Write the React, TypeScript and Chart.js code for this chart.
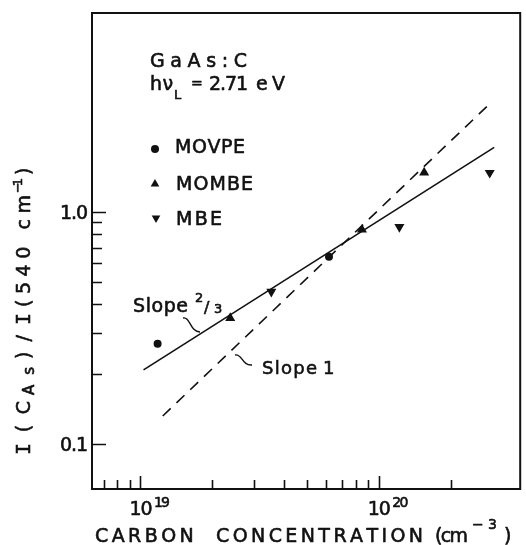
import { useEffect, useRef } from 'react';
import { Chart, registerables } from 'chart.js';

Chart.register(...registerables);

// ---- data ----
const movpeX = [1.18e19, 6.18e19];
const movpeY = [0.27, 0.64];
const mombeX = [2.38e19, 8.5e19, 1.55e20];
const mombeY = [0.348, 0.836, 1.474];
const mbeX = [3.54e19, 1.22e20, 2.92e20];
const mbeY = [0.452, 0.86, 1.469];
const slope23X = [1.03e19, 3.05e20];
const slope23Y = [0.2085, 1.89];
const slope1X = [1.24e19, 3.0e20];
const slope1Y = [0.132, 2.99];

const xRange = [6.26e18, 3.92e20];
const yRange = [0.064, 7.16];
const xMajorTicks = [1e19, 1e20];
const xMajorExp = ['19', '20'];
const xMinorTicks = [7e18, 8e18, 9e18, 2e19, 3e19, 4e19, 5e19, 6e19, 7e19, 8e19, 9e19, 2e20];
const yMajorTicks = [0.1, 1.0];
const yMajorLabels = ['0.1', '1.0'];
const yMinorTicks = [0.2, 0.3, 0.4, 0.5, 0.6, 0.7, 0.8, 0.9];

const legendLabels = ['MOVPE', 'MOMBE', 'MBE'];

const FONT = "'DejaVu Sans', sans-serif";
const MONO = "'DejaVu Sans Mono', monospace";
const INK = '#111';
const FS = 19;

const pts = (xs: number[], ys: number[]) => xs.map((x, i) => ({ x, y: ys[i] }));

type Run = { t: string; size: number; dy?: number; fam?: string };

function drawRuns(ctx: CanvasRenderingContext2D, runs: Run[], x0: number, x1: number, y: number) {
  const chars: { ch: string; size: number; dy: number; fam: string; w: number }[] = [];
  for (const r of runs) {
    for (const ch of Array.from(r.t)) {
      chars.push({ ch, size: r.size, dy: r.dy || 0, fam: r.fam || FONT, w: 0 });
    }
  }
  let total = 0;
  for (const c of chars) {
    ctx.font = `${c.size}px ${c.fam}`;
    c.w = ctx.measureText(c.ch).width;
    total += c.w;
  }
  const sp = chars.length > 1 ? (x1 - x0 - total) / (chars.length - 1) : 0;
  let x = x0;
  ctx.lineWidth = 0.6;
  ctx.lineJoin = 'round';
  for (const c of chars) {
    ctx.font = `${c.size}px ${c.fam}`;
    ctx.fillText(c.ch, x, y + c.dy);
    ctx.strokeText(c.ch, x, y + c.dy);
    x += c.w + sp;
  }
}

function drawTri(ctx: CanvasRenderingContext2D, x: number, y: number, r: number, down: boolean) {
  const s = down ? -1 : 1;
  ctx.beginPath();
  ctx.moveTo(x, y - s * r);
  ctx.lineTo(x + r * 0.866, y + s * r * 0.5);
  ctx.lineTo(x - r * 0.866, y + s * r * 0.5);
  ctx.closePath();
  ctx.fill();
}

const decorPlugin = {
  id: 'decor',
  beforeDraw(chart: any) {
    const ctx = chart.ctx as CanvasRenderingContext2D;
    ctx.save();
    ctx.fillStyle = '#fff';
    ctx.fillRect(0, 0, chart.width, chart.height);
    ctx.restore();
  },
  afterDraw(chart: any) {
    const ctx = chart.ctx as CanvasRenderingContext2D;
    const { left, right, top, bottom } = chart.chartArea;
    const xs = chart.scales.x;
    const ys = chart.scales.y;
    ctx.save();
    ctx.strokeStyle = INK;
    ctx.fillStyle = INK;
    ctx.textBaseline = 'alphabetic';
    ctx.textAlign = 'left';

    // frame
    ctx.lineWidth = 2;
    ctx.strokeRect(left, top, right - left, bottom - top);

    // ticks
    ctx.lineWidth = 1.6;
    ctx.beginPath();
    for (const v of yMajorTicks) {
      const p = Math.round(ys.getPixelForValue(v)) + 0.5;
      ctx.moveTo(left, p); ctx.lineTo(left + 14, p);
    }
    for (const v of yMinorTicks) {
      const p = Math.round(ys.getPixelForValue(v)) + 0.5;
      ctx.moveTo(left, p); ctx.lineTo(left + 10, p);
    }
    for (const v of xMajorTicks) {
      const p = Math.round(xs.getPixelForValue(v)) + 0.5;
      ctx.moveTo(p, bottom); ctx.lineTo(p, bottom - 13);
    }
    for (const v of xMinorTicks) {
      const p = Math.round(xs.getPixelForValue(v)) + 0.5;
      ctx.moveTo(p, bottom); ctx.lineTo(p, bottom - 9);
    }
    ctx.stroke();

    // y tick labels
    yMajorTicks.forEach((v, i) => {
      const p = ys.getPixelForValue(v);
      drawRuns(ctx, [{ t: yMajorLabels[i], size: FS }], left - 32, left - 4, p + 7);
    });
    // x tick labels
    xMajorTicks.forEach((v, i) => {
      const p = xs.getPixelForValue(v);
      drawRuns(ctx, [{ t: '10', size: FS }], p - 11, p + 12, 515);
      drawRuns(ctx, [{ t: xMajorExp[i], size: 14 }], p + 13.5, p + 29.5, 507);
    });

    // x title
    drawRuns(ctx, [{ t: 'CARBON  CONCENTRATION', size: FS }], 95, 423, 542);
    drawRuns(ctx, [{ t: '(cm', size: FS }], 435, 468, 542);
    drawRuns(ctx, [{ t: '−3', size: 14 }], 472, 497, 529);
    drawRuns(ctx, [{ t: ')', size: FS }], 504, 511, 542);

    // y title (rotated)
    ctx.save();
    ctx.translate(30, 463);
    ctx.rotate(-Math.PI / 2);
    drawRuns(ctx, [{ t: 'I', size: 20, fam: MONO }, { t: '(C', size: FS }], 8, 62, 0);
    drawRuns(ctx, [{ t: 'As', size: 15, dy: 4 }], 68, 96, 0);
    drawRuns(ctx, [{ t: ')/', size: FS }, { t: 'I', size: 20, fam: MONO }], 104, 150, 0);
    drawRuns(ctx, [{ t: '(540 cm', size: FS }], 156, 268, 0);
    drawRuns(ctx, [{ t: '−1', size: 13, dy: -8 }], 270, 285, 0);
    drawRuns(ctx, [{ t: ')', size: FS }], 288, 300, 0);
    ctx.restore();

    // annotation text
    drawRuns(ctx, [{ t: 'GaAs:C', size: FS }], 150, 247, 67);
    drawRuns(ctx, [{ t: 'hν', size: FS }], 150, 173, 90);
    drawRuns(ctx, [{ t: 'L', size: 13 }], 174, 181, 99);
    drawRuns(ctx, [{ t: '=', size: 14 }], 191, 200, 88);
    drawRuns(ctx, [{ t: '2.71', size: FS }], 209, 248, 90);
    drawRuns(ctx, [{ t: 'eV', size: FS }], 256, 285, 90);

    // legend
    ctx.beginPath();
    ctx.arc(155, 149, 4, 0, Math.PI * 2);
    ctx.fill();
    drawTri(ctx, 155, 184, 5, false);
    drawTri(ctx, 156, 218, 5, true);
    drawRuns(ctx, [{ t: legendLabels[0], size: FS }], 175, 245, 153);
    drawRuns(ctx, [{ t: legendLabels[1], size: FS }], 176, 253, 190);
    drawRuns(ctx, [{ t: legendLabels[2], size: FS }], 176, 222, 225);

    // slope labels
    drawRuns(ctx, [{ t: 'Slope', size: FS }], 133, 188, 312);
    drawRuns(ctx, [{ t: '2', size: 13 }], 195, 203, 302);
    drawRuns(ctx, [{ t: '/', size: 16 }], 204, 212, 313);
    drawRuns(ctx, [{ t: '3', size: 13 }], 214, 223, 313);
    drawRuns(ctx, [{ t: 'Slope', size: 18 }], 262, 317, 374);
    drawRuns(ctx, [{ t: '1', size: 18 }], 323, 333, 374);

    ctx.lineWidth = 1.4;
    ctx.beginPath();
    ctx.moveTo(183, 318);
    ctx.bezierCurveTo(190, 316, 190, 332, 200, 332);
    ctx.moveTo(235, 355);
    ctx.bezierCurveTo(242, 353, 242, 366, 252, 365);
    ctx.stroke();

    ctx.restore();
  },
};

export default function App() {
  const ref = useRef<HTMLCanvasElement | null>(null);
  useEffect(() => {
    if (!ref.current) return;
    const chart = new Chart(ref.current, {
      type: 'scatter',
      data: {
        datasets: [
          {
            label: 'Slope 2/3',
            data: pts(slope23X, slope23Y),
            showLine: true,
            borderColor: INK,
            borderWidth: 1.6,
            pointRadius: 0,
          },
          {
            label: 'Slope 1',
            data: pts(slope1X, slope1Y),
            showLine: true,
            borderColor: INK,
            borderWidth: 1.6,
            borderDash: [11, 8],
            pointRadius: 0,
          },
          {
            label: legendLabels[0],
            data: pts(movpeX, movpeY),
            pointStyle: 'circle',
            pointRadius: 4,
            backgroundColor: INK,
            borderWidth: 0,
          },
          {
            label: legendLabels[1],
            data: pts(mombeX, mombeY),
            pointStyle: 'triangle',
            pointRadius: 5.8,
            backgroundColor: INK,
            borderWidth: 0,
          },
          {
            label: legendLabels[2],
            data: pts(mbeX, mbeY),
            pointStyle: 'triangle',
            rotation: 180,
            pointRadius: 5.8,
            backgroundColor: INK,
            borderWidth: 0,
          },
        ],
      },
      options: {
        responsive: false,
        animation: false,
        layout: { padding: { left: 92, right: 4, top: 13, bottom: 56 } },
        scales: {
          x: { type: 'logarithmic', min: xRange[0], max: xRange[1], display: false },
          y: { type: 'logarithmic', min: yRange[0], max: yRange[1], display: false },
        },
        plugins: { legend: { display: false }, tooltip: { enabled: false } },
      },
      plugins: [decorPlugin],
    } as any);
    return () => chart.destroy();
  }, []);
  return (
    <div style={{ position: 'fixed', left: 0, top: 0, width: 526, height: 545, background: '#fff' }}>
      <canvas ref={ref} width={526} height={545} style={{ display: 'block' }} />
    </div>
  );
}
